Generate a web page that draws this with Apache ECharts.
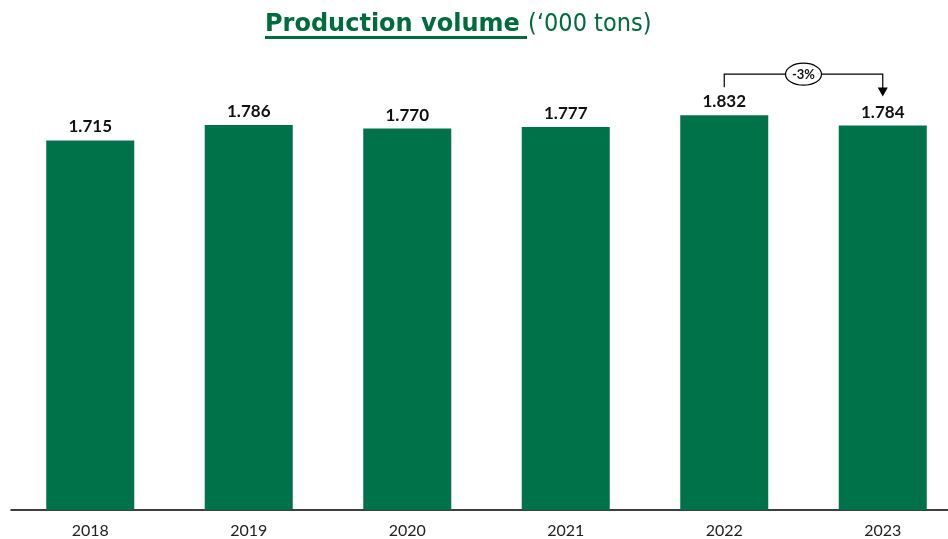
<!DOCTYPE html>
<html>
<head>
<meta charset="utf-8">
<script src="https://cdn.jsdelivr.net/npm/echarts@6/dist/echarts.min.js"></script>
<style>
  html, body { margin: 0; padding: 0; background: #fff; overflow: hidden; }
  /* canvas runs slightly past the right edge of the window so the last category is cut */
  #chart { width: 962px; height: 539px; }
</style>
</head>
<body>
<div id="chart"></div>
<script>
// Production volume per year, in thousand tons
const years = ['2018', '2019', '2020', '2021', '2022', '2023'];
const volumes = [1715, 1786, 1770, 1777, 1832, 1784];

const GREEN = '#00724A';
const TITLE_GREEN = '#006B3C';

// European thousands separator: 1715 -> "1.715"
function fmt(v) {
  return String(v).replace(/\B(?=(\d{3})+(?!\d))/g, '.');
}

const chart = echarts.init(document.getElementById('chart'), null, { renderer: 'canvas' });

chart.setOption({
  animation: false,
  backgroundColor: '#fff',
  title: {
    text: '{b|Production volume }{n|(\u2018000 tons)}',
    left: 260,
    top: 7,
    textStyle: {
      rich: {
        b: { fontFamily: 'DejaVu Sans', fontWeight: 'bold', fontSize: 24, color: TITLE_GREEN },
        n: { fontFamily: 'DejaVu Sans Condensed', fontWeight: 'normal', fontSize: 25, color: TITLE_GREEN }
      }
    }
  },
  grid: { left: 11, right: 0, top: 79, bottom: 25 },
  xAxis: {
    type: 'category',
    data: years,
    axisLine: { lineStyle: { color: '#000', width: 1.5 } },
    axisTick: { show: false },
    axisLabel: { color: '#222', fontFamily: 'Lato', fontSize: 16, margin: 13 }
  },
  yAxis: {
    type: 'value',
    min: 0,
    max: 2000,
    show: false,
    splitLine: { show: false }
  },
  series: [{
    type: 'bar',
    data: volumes,
    barWidth: 88,
    itemStyle: { color: GREEN },
    label: {
      show: true,
      position: 'top',
      distance: 5,
      formatter: p => fmt(p.value),
      fontFamily: 'Lato',
      fontWeight: 'bold',
      fontSize: 17,
      color: '#111'
    }
  }]
});

// Title underline and the year-on-year change bracket between the last two bars
function drawOverlays() {
  const n = volumes.length;
  const a = chart.convertToPixel({ gridIndex: 0 }, [n - 2, volumes[n - 2]]);
  const b = chart.convertToPixel({ gridIndex: 0 }, [n - 1, volumes[n - 1]]);
  const change = Math.round((volumes[n - 1] - volumes[n - 2]) / volumes[n - 2] * 100);
  const topY = Math.min(a[1], b[1]) - 41;
  const midX = (a[0] + b[0]) / 2;
  const arrowTip = b[1] - 29;

  chart.setOption({
    graphic: [
      { type: 'rect', shape: { x: 265, y: 36, width: 262, height: 3 }, style: { fill: TITLE_GREEN } },
      {
        type: 'polyline',
        shape: { points: [[a[0], a[1] - 28], [a[0], topY], [b[0], topY], [b[0], arrowTip - 8]] },
        style: { stroke: '#000', lineWidth: 1.2, fill: null }
      },
      {
        type: 'polygon',
        shape: { points: [[b[0] - 5, arrowTip - 9], [b[0] + 5, arrowTip - 9], [b[0], arrowTip]] },
        style: { fill: '#000' }
      },
      {
        type: 'ellipse',
        shape: { cx: midX, cy: topY, rx: 18, ry: 11 },
        style: { fill: '#fff', stroke: '#000', lineWidth: 1.2 }
      },
      {
        type: 'text',
        x: midX,
        y: topY + 1,
        style: {
          text: (change > 0 ? '+' : '') + change + '%',
          fontFamily: 'Lato',
          fontSize: 13,
          fontWeight: 'bold',
          fill: '#111',
          align: 'center',
          verticalAlign: 'middle'
        }
      }
    ]
  });
}
drawOverlays();
</script>
</body>
</html>
